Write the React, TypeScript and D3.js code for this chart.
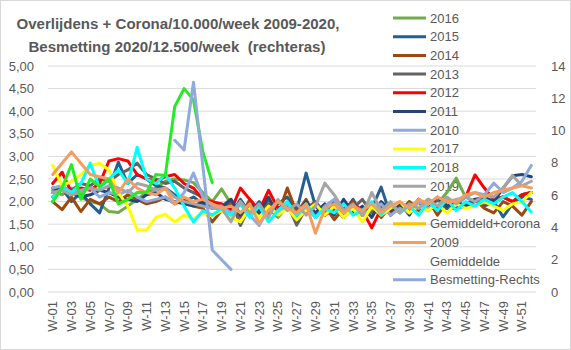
import React from "react";
import * as d3 from "d3";

const weeks: string[] = Array.from({ length: 52 }, (_, i) => `W-${String(i + 1).padStart(2, "0")}`);
const leftTicks = [0, 0.5, 1, 1.5, 2, 2.5, 3, 3.5, 4, 4.5, 5];
const rightTicks = [0, 2, 4, 6, 8, 10, 12, 14];

const y2016 = [2.25, 2.15, 2.3, 2.1, 2.0, 1.95, 1.78, 1.76, 1.9, 2.05, 2.2, 2.3, 2.45, 2.5, 2.48, 2.42, 2.2, 2.0,
  2.28, 1.95, 1.75, 1.9, 1.7, 1.85, 1.65, 1.9, 1.7, 1.8, 1.95, 1.7, 1.85, 1.65, 1.9, 1.75, 1.85, 1.7, 1.95, 1.8, 2.0, 1.85, 2.05, 1.95, 2.2,
  2.52, 2.1, 2.0, 2.05, 1.95, 2.1, 2.0, 2.15, 2.2];
const y2015 = [2.1, 2.3, 2.0, 2.2, 1.95, 1.75, 2.3, 2.87, 2.4, 2.6, 2.5, 2.35, 2.3, 2.15, 2.0, 2.1, 1.95, 1.85,
  1.95, 1.7, 2.05, 1.75, 2.0, 1.72, 1.95, 2.1, 1.8, 2.63, 1.9, 1.7, 2.0, 1.75, 2.05, 1.7, 1.85, 2.32, 1.7, 1.95, 1.75, 2.05, 1.8, 2.0, 1.85,
  1.85, 1.95, 2.05, 1.9, 2.0, 1.66, 1.95, 2.1, 2.05];
const y2014 = [2.0, 1.82, 2.1, 1.78, 2.05, 1.95, 2.1, 2.0, 2.15, 2.05, 1.95, 2.0, 2.1, 1.95, 2.05, 1.9, 1.85, 1.55,
  1.8, 1.95, 1.65, 2.05, 1.8, 1.95, 1.7, 2.3, 1.75, 2.05, 1.65, 1.9, 1.6, 1.85, 2.0, 1.7, 1.95, 1.65, 1.9, 1.75, 2.0, 1.8, 2.05, 1.7, 2.0,
  2.0, 1.9, 2.05, 1.85, 1.75, 2.0, 1.9, 1.7, 2.0];
const y2013 = [2.2, 2.3, 2.25, 2.4, 2.35, 2.5, 2.45, 2.6, 2.7, 2.85, 2.6, 2.5, 2.4, 2.45, 2.3, 2.2, 2.1, 1.95,
  1.9, 2.05, 1.47, 1.9, 1.75, 2.05, 1.7, 1.95, 1.48, 1.85, 2.0, 1.75, 1.9, 1.65, 1.85, 2.05, 1.75, 1.95, 1.7, 1.9, 1.8, 2.05, 1.85, 2.0, 1.9,
  1.85, 1.9, 2.0, 1.95, 2.05, 2.1, 2.0, 2.15, 2.2];
const y2012 = [2.4, 2.65, 2.2, 2.3, 2.25, 2.4, 2.9, 2.95, 2.9, 2.6, 2.5, 2.45, 2.55, 2.6, 2.4, 2.3, 2.05, 2.0,
  1.95, 1.8, 2.3, 2.05, 1.8, 2.25, 1.85, 1.95, 1.7, 1.77, 1.95, 1.7, 1.85, 1.75, 1.95, 1.8, 1.42, 1.85, 1.75, 1.95, 1.8, 1.9, 2.0, 1.85, 2.05,
  1.95, 2.1, 2.59, 2.3, 2.05, 2.1, 2.0, 2.15, 2.2];
const y2011 = [2.3, 2.25, 2.2, 2.1, 2.15, 2.25, 2.2, 2.1, 2.05, 2.0, 2.15, 2.2, 2.05, 2.0, 1.95, 1.9, 2.0, 1.85,
  1.85, 2.05, 1.7, 1.95, 1.75, 2.1, 1.7, 1.9, 1.65, 2.0, 1.75, 1.95, 1.7, 2.05, 1.75, 1.9, 1.65, 2.0, 1.8, 1.95, 1.7, 2.05, 1.85, 2.1, 1.9,
  2.0, 1.9, 2.05, 2.1, 2.0, 2.3, 2.57, 2.6, 2.55];
const y2010 = [2.3, 2.35, 2.2, 2.25, 2.3, 2.1, 2.2, 2.15, 2.25, 2.1, 2.0, 2.05, 2.1, 1.95, 2.2, 2.63, 2.1, 1.9,
  1.9, 1.75, 2.0, 1.7, 1.47, 1.85, 1.75, 1.95, 1.7, 1.85, 1.65, 1.9, 2.05, 1.75, 1.9, 1.7, 1.85, 1.95, 1.7, 1.85, 1.75, 2.0, 1.85, 1.95, 2.0,
  2.05, 2.1, 2.2, 2.15, 2.41, 2.2, 2.3, 2.45, 2.8];
const y2017 = [2.8, 2.35, 2.45, 2.6, 2.8, 2.85, 2.7, 2.2, 1.9, 1.38, 1.37, 1.65, 1.72, 1.55, 1.7, 1.62, 1.75, 1.68,
  1.8, 1.65, 1.55, 1.85, 1.65, 1.9, 1.7, 1.85, 1.6, 1.8, 1.95, 1.7, 1.9, 1.65, 1.85, 1.55, 1.9, 1.7, 1.85, 2.0, 1.75, 1.9, 1.8, 1.95, 1.75,
  1.95, 1.85, 1.9, 2.0, 1.9, 1.8, 1.95, 2.0, 2.2];
const y2018 = [2.1, 2.3, 2.2, 2.4, 2.85, 2.3, 2.5, 2.7, 2.4, 3.2, 2.5, 2.4, 2.6, 2.3, 1.9, 1.55, 1.8, 1.7,
  1.85, 1.7, 1.95, 1.65, 1.9, 1.55, 1.8, 2.0, 1.7, 1.95, 1.65, 1.85, 1.75, 1.95, 1.7, 1.8, 2.0, 1.7, 1.95, 1.75, 1.9, 1.7, 2.0, 1.8, 2.05,
  1.8, 2.0, 1.9, 2.05, 1.95, 2.1, 2.2, 2.0, 1.77];
const y2019 = [2.2, 2.25, 2.15, 2.2, 2.3, 2.25, 2.35, 2.3, 2.2, 2.4, 2.35, 2.25, 2.3, 2.1, 2.0, 1.95, 1.9, 1.85,
  1.85, 1.55, 2.0, 1.75, 1.95, 1.65, 2.05, 1.8, 1.95, 1.7, 1.9, 2.41, 2.15, 1.8, 1.95, 1.7, 2.2, 1.8, 2.0, 1.75, 1.95, 1.85, 2.05, 1.9, 2.1,
  1.95, 2.1, 2.0, 2.15, 2.1, 2.3, 2.58, 2.35, 2.45];
const y2020 = [2.0, 2.3, 2.82, 2.05, 2.5, 2.33, 2.5, 1.95, 2.05, 2.2, 2.2, 2.6, 2.58, 4.1, 4.5, 4.25, 3.1, 2.42];
const yGemCorona: number[] = [];
const y2009 = [2.6, 2.85, 3.1, 2.85, 2.6, 2.55, 2.5, 2.2, 2.5, 2.3, 2.2, 2.15, 2.3, 1.95, 2.1, 2.0, 2.05, 1.95,
  1.85, 1.9, 1.75, 1.95, 1.52, 1.8, 2.0, 1.85, 1.75, 1.95, 1.3, 1.85, 1.95, 1.75, 1.9, 1.8, 1.95, 1.75, 1.9, 2.0, 1.85, 2.05, 1.95, 2.1, 2.0,
  2.0, 2.15, 2.2, 2.1, 2.2, 2.25, 2.3, 2.35, 2.3];
const yGemiddelde = [2.45, 2.5, 2.5, 2.45, 2.5, 2.5, 2.55, 2.55, 2.5, 2.45, 2.4, 2.4, 2.38, 2.35, 2.3, 2.3, 2.2, 2.15, 2.1, 2.05, 2.0, 1.95, 1.95, 1.9, 1.9, 1.9, 1.88, 1.88, 1.85, 1.88, 1.85, 1.85, 1.85, 1.85, 1.85, 1.88, 1.9, 1.9, 1.95, 1.95, 2.0, 2.0, 2.05, 2.1, 2.1, 2.15, 2.2, 2.2, 2.25, 2.3, 2.35, 2.4];
// right axis series, starts at W-14
const besmettingStart = 13;
const yBesmetting = [9.4, 8.8, 13.0, 7.8, 2.6, 2.0, 1.4];

const seriesNames = ["2016", "2015", "2014", "2013", "2012", "2011", "2010", "2017", "2018", "2019", "2020", "Gemiddeld+corona", "2009", "Gemiddelde", "Besmetting-Rechts"];
const seriesData = [y2016, y2015, y2014, y2013, y2012, y2011, y2010, y2017, y2018, y2019, y2020, yGemCorona, y2009, yGemiddelde, yBesmetting];
const seriesColors = ["#70AD47", "#255E91", "#9E480E", "#636363", "#FF0000", "#264478", "#8FAADC", "#FFFF00", "#00FFFF", "#A5A5A5", "#22EE22", "#FFC000", "#F59D61", "#FFFFFF", "#8FAADC"];
const drawOrder = [13, 0, 1, 2, 3, 4, 5, 6, 7, 8, 9, 11, 12, 10, 14];

const W = 571, H = 350;
const PL = 48, PR = 536, PT = 66, PB = 292;
const TXT = "#595959";
const FONT = "'Liberation Sans', Arial, sans-serif";

export default function App() {
  const x = d3.scaleBand<string>().domain(weeks).range([PL, PR]).padding(0);
  const cx = (i: number) => (x(weeks[i]) as number) + x.bandwidth() / 2;
  const yL = d3.scaleLinear().domain([0, 5]).range([PB, PT]);
  const yR = d3.scaleLinear().domain([0, 14]).range([PB, PT]);
  const legendY = d3.scaleLinear().domain([0, 1]).range([18, 36.7]);

  const lines = seriesData.map((data, si) => {
    const isRight = si === seriesData.length - 1;
    const offset = isRight ? besmettingStart : 0;
    const gen = d3
      .line<number>()
      .x((_, i) => cx(i + offset))
      .y((d) => (isRight ? yR(d) : yL(d)));
    return data.length ? gen(data) : null;
  });

  return (
    <div style={{ position: "absolute", left: 0, top: 0 }}>
      <svg width={W} height={H} style={{ display: "block", fontFamily: FONT }}>
        <rect x={0.5} y={0.5} width={W - 1} height={H - 1} fill="#fff" stroke="#D9D9D9" />
        {leftTicks.map((t) => (
          <line key={t} x1={PL} x2={PR} y1={yL(t)} y2={yL(t)} stroke="#D9D9D9" strokeWidth={1} />
        ))}
        {leftTicks.map((t) => (
          <text key={"l" + t} x={34} y={yL(t)} dy="0.35em" textAnchor="end" fontSize={13} fill={TXT}>
            {t.toFixed(2).replace(".", ",")}
          </text>
        ))}
        {rightTicks.map((t) => (
          <text key={"r" + t} x={551} y={yR(t)} dy="0.35em" textAnchor="start" fontSize={13} fill={TXT}>
            {t}
          </text>
        ))}
        {weeks.map((w, i) =>
          i % 2 === 0 ? (
            <text key={w} transform={`translate(${cx(i)},301) rotate(-90)`} dy="0.35em" textAnchor="end" fontSize={13} fill={TXT}>
              {w}
            </text>
          ) : null
        )}
        <text x={178} y={29} textAnchor="middle" fontSize={14.5} fontWeight="bold" fill={TXT} textLength={323} lengthAdjust="spacingAndGlyphs">
          Overlijdens + Corona/10.000/week 2009-2020,
        </text>
        <text x={177} y={52} textAnchor="middle" fontSize={14.5} fontWeight="bold" fill={TXT} textLength={297} lengthAdjust="spacingAndGlyphs" style={{ whiteSpace: "pre" }}>
          {"Besmetting 2020/12.500/week  (rechteras)"}
        </text>
        {seriesNames.map((n, i) => (
          <g key={n}>
            {n !== "Gemiddelde" ? (
              <line x1={393} x2={426} y1={legendY(i)} y2={legendY(i)} stroke={seriesColors[i]} strokeWidth={3} />
            ) : null}
            <text x={430} y={legendY(i)} dy="0.35em" fontSize={13} fill={TXT}>
              {n}
            </text>
          </g>
        ))}
        {drawOrder.map((i) =>
          lines[i] ? (
            <path key={i} d={lines[i] as string} fill="none" stroke={seriesColors[i]} strokeWidth={3} strokeLinejoin="round" strokeLinecap="round" />
          ) : null
        )}
      </svg>
    </div>
  );
}
